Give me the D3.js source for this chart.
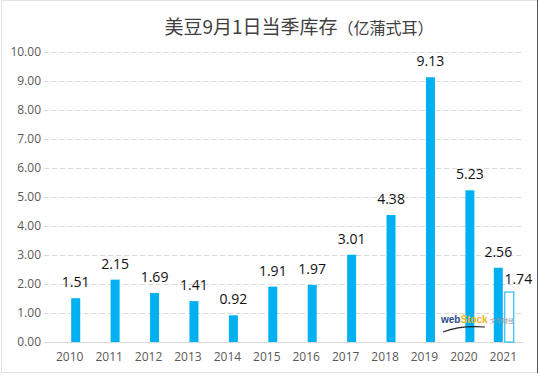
<!DOCTYPE html>
<html>
<head>
<meta charset="utf-8">
<script src="https://cdn.jsdelivr.net/npm/d3@7"></script>
<style>
    body { margin: 0; background: #fff; }
    svg { display: block; }
</style>
</head>
<body>
<div id="chart"></div>
<script>
const years = ['2010', '2011', '2012', '2013', '2014', '2015', '2016', '2017', '2018', '2019', '2020', '2021']
const stocks = [1.51, 2.15, 1.69, 1.41, 0.92, 1.91, 1.97, 3.01, 4.38, 9.13, 5.23, 2.56]
const latestYears = ['2021']
const latestStocks = [1.74]
const yTicks = [0, 1, 2, 3, 4, 5, 6, 7, 8, 9, 10]

const width = 539
const height = 376
const margin = { left: 50, right: 16, top: 52, bottom: 34 }
const barColor = '#00B0F0'
const barW = 9

const svg = d3.select('#chart')
    .append('svg')
    .attr('width', width)
    .attr('height', height)

// frame
svg.append('rect')
    .attr('x', 1.5).attr('y', 0.5)
    .attr('width', 536).attr('height', 372)
    .style('fill', 'none')
    .style('stroke', '#e3e3e3')
svg.append('line')
    .attr('x1', 537.5).attr('x2', 537.5)
    .attr('y1', 0).attr('y2', 373)
    .style('stroke', '#555')

const x = d3.scaleBand()
    .domain(years)
    .range([margin.left, width - margin.right])
    .padding(0)

const y = d3.scaleLinear()
    .domain([0, 10])
    .range([height - margin.bottom, margin.top])

// gridlines
svg.selectAll('.grid')
    .data(yTicks)
    .join('line')
    .attr('x1', 44)
    .attr('x2', width - margin.right)
    .attr('y1', d => Math.round(y(d)) + 0.5)
    .attr('y2', d => Math.round(y(d)) + 0.5)
    .style('stroke', '#d9d9d9')
    .style('stroke-width', '1px')
    .style('stroke-dasharray', d => d === 0 ? null : '5,3')

const yAxis = svg.append('g')
    .attr('transform', `translate(41, 0)`)
    .call(d3.axisLeft(y).tickValues(yTicks).tickFormat(d3.format('.2f')).tickSize(0).tickPadding(0))
yAxis.select('.domain').remove()
yAxis.selectAll('text')
    .style('font-family', '"Open Sans", sans-serif')
    .style('font-size', '12px')
    .style('fill', '#595959')

const xAxis = svg.append('g')
    .attr('transform', `translate(0, ${height - margin.bottom})`)
    .call(d3.axisBottom(x).tickSize(0).tickPadding(10))
xAxis.select('.domain').remove()
xAxis.selectAll('text')
    .style('font-family', '"Open Sans", sans-serif')
    .style('font-size', '12px')
    .style('fill', '#595959')

const center = d => x(d) + x.bandwidth() / 2
const mainX = d => latestYears.includes(d) ? center(d) - 9.5 : center(d) + 1.5

const main = years.map((d, i) => ({ year: d, value: stocks[i] }))
const latest = latestYears.map((d, i) => ({ year: d, value: latestStocks[i] }))

svg.selectAll('.bar')
    .data(main)
    .join('rect')
    .attr('class', 'bar')
    .attr('x', d => mainX(d.year))
    .attr('y', d => y(d.value))
    .attr('width', barW)
    .attr('height', d => y(0) - y(d.value))
    .style('fill', barColor)

svg.selectAll('.bar-latest')
    .data(latest)
    .join('rect')
    .attr('class', 'bar-latest')
    .attr('x', d => center(d.year) + 1.5)
    .attr('y', d => y(d.value) + 0.5)
    .attr('width', barW)
    .attr('height', d => y(0) - y(d.value) - 0.5)
    .style('fill', '#fff')
    .style('stroke', barColor)
    .style('stroke-width', '1px')

svg.selectAll('.label')
    .data(main)
    .join('text')
    .attr('x', d => mainX(d.year) + barW / 2)
    .attr('y', d => y(d.value) - 11)
    .text(d => d.value.toFixed(2))
    .style('font-family', '"Open Sans", sans-serif')
    .style('font-size', '14px')
    .style('fill', '#111')
    .style('text-anchor', 'middle')

svg.selectAll('.label-latest')
    .data(latest)
    .join('text')
    .attr('x', d => center(d.year) + 15)
    .attr('y', d => y(d.value) - 8)
    .text(d => d.value.toFixed(2))
    .style('font-family', '"Open Sans", sans-serif')
    .style('font-size', '14px')
    .style('fill', '#111')
    .style('text-anchor', 'middle')

// title
const title = svg.append('text')
    .attr('x', 299)
    .attr('y', 34)
    .style('text-anchor', 'middle')
    .style('font-family', '"Noto Sans CJK SC", sans-serif')
    .style('fill', '#404040')
title.append('tspan')
    .text('美豆9月1日当季库存')
    .style('font-size', '19px')
title.append('tspan')
    .text('（亿蒲式耳）')
    .style('font-size', '16px')

// watermark
const wm = svg.append('g').attr('transform', 'translate(441, 323)')
wm.append('text')
    .attr('x', 0).attr('y', 0)
    .style('font-family', 'Arial, sans-serif')
    .style('font-size', '10px')
    .style('font-weight', 'bold')
    .call(t => t.append('tspan').text('web').style('fill', '#2a4a8a'))
    .call(t => t.append('tspan').text('Stock').style('fill', '#f2b51c'))
wm.append('path')
    .attr('d', 'M2,9 Q20,2 44,4')
    .style('fill', 'none')
    .style('stroke', '#222')
    .style('stroke-width', '1.2px')
wm.append('text')
    .attr('x', 49).attr('y', 0)
    .text('文华财经')
    .style('font-family', '"Noto Sans CJK SC", sans-serif')
    .style('font-size', '6px')
    .style('fill', '#999')
</script>
</body>
</html>
